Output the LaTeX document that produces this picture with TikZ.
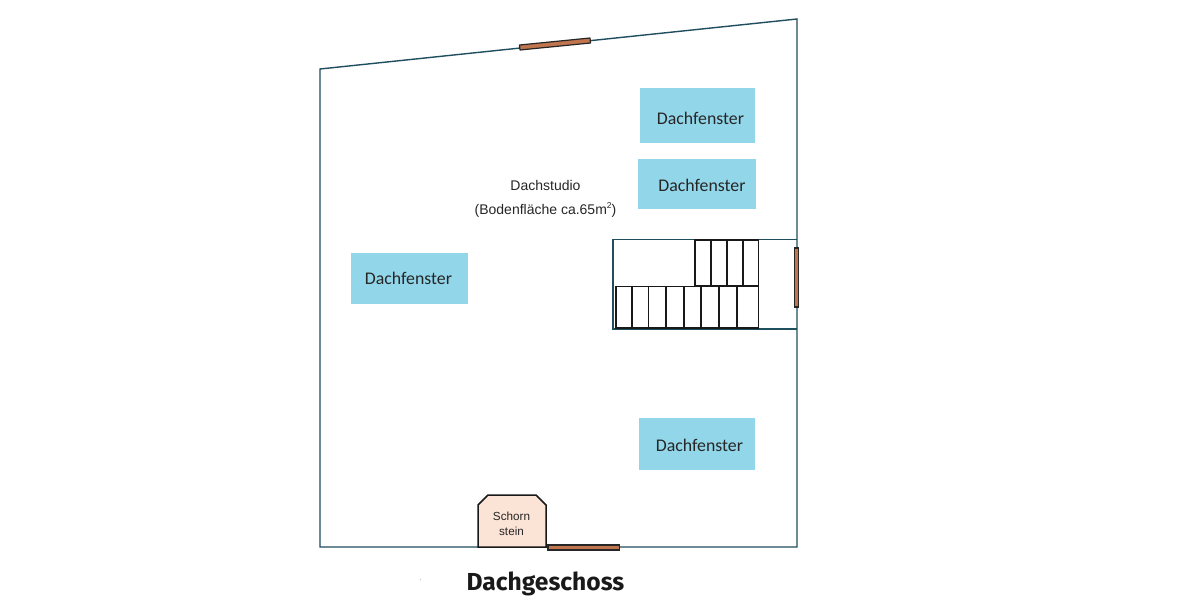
\documentclass[tikz,border=0pt]{standalone}
\usepackage{fontspec}
\setmainfont{Carlito}
\newfontfamily\labelfont{Liberation Sans}
\newfontfamily\titlefont{Fira Sans}
\definecolor{wallc}{HTML}{1F4E5F}
\definecolor{skyc}{HTML}{92D6EA}
\definecolor{sillc}{HTML}{C0754F}
\definecolor{chimc}{HTML}{FBE3D6}
\tikzset{
  wall/.style={draw=wallc,line width=1.4pt},
  skylight/.style={fill=skyc,draw=none},
  skytext/.style={font=\fontsize{17.8}{20}\selectfont,text=black!85,inner sep=0pt},
  sill/.style={fill=sillc,draw=black!85,line width=1.2pt},
  tread/.style={draw=black!90,line width=1.5pt},
  smalltext/.style={font=\labelfont\fontsize{14}{16}\selectfont,text=black!85,inner sep=0pt},
}
\begin{document}
\begin{tikzpicture}[x=1pt,y=-1pt]
\useasboundingbox (0,0) rectangle (1200,600);
\fill[white] (0,0) rectangle (1200,600);
% skylights
\fill[skylight] (640,88) rectangle (755,143);
\fill[skylight] (638,159) rectangle (756,209);
\fill[skylight] (351,253) rectangle (468,304);
\fill[skylight] (639,418) rectangle (755,470);
\node[skytext] (f1) at (700.5,118) {Dachfenster};
\node[skytext] (f2) at (702,185.5) {Dachfenster};
\node[skytext] (f3) at (408.5,278.5) {Dachfenster};
\node[skytext] (f4) at (699.5,445) {Dachfenster};
% walls
\draw[wall] (320,69) -- (797,19) -- (797,547) -- (320,547) -- cycle;
\draw[wall] (797,239.5) -- (613,239.5) -- (613,329) -- (797,329);
% stairs
\draw[tread] (695,240) rectangle (758.5,286);
\foreach \x in {711,727,743} \draw[tread] (\x,240) -- (\x,286);
\draw[tread] (616,286.5) rectangle (758.5,328);
\foreach \x in {632,648.5,666,684,701,719,737} \draw[tread] (\x,286.5) -- (\x,328);
% windows
\fill[sill,line join=round] (519.5,45) -- (590,38) -- (590.5,43) -- (520,50) -- cycle;
\filldraw[sill] (794.5,248) rectangle (798.5,307);
\filldraw[sill] (548,545) rectangle (619.5,550);
% chimney
\filldraw[fill=chimc,draw=black!90,line width=1.5pt] (478,547) -- (478,505) -- (488,495) -- (536,495) -- (546,505) -- (546,547) -- cycle;
\node[font=\labelfont\fontsize{11.7}{15.5}\selectfont,text=black!85,align=center,inner sep=0pt] (chim) at (511.5,524) {Schorn\\stein};
% labels
\node[smalltext] (studio) at (545.5,185) {Dachstudio};
\node[smalltext] (area) at (545.5,210) {(Bodenfläche ca.65m\raisebox{5.5pt}{\fontsize{8.5}{8}\selectfont 2})};
\node[font=\titlefont\bfseries\fontsize{24.6}{26}\selectfont,text=black!90,inner sep=0pt] (title) at (545.5,583.5) {Dachgeschoss};
\fill[black!25] (419.5,578.5) rectangle (421,579.5);
\end{tikzpicture}
\end{document}
